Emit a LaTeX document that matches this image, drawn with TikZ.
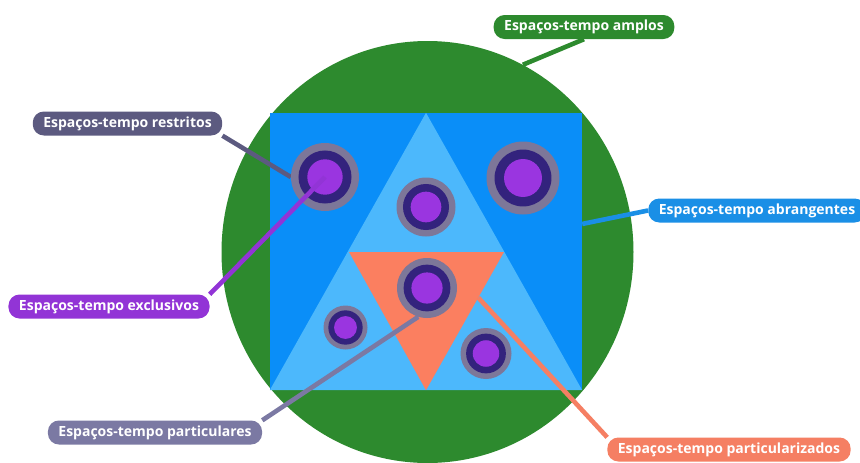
\documentclass[tikz,border=0pt]{standalone}
\usepackage{fontspec}
\setmainfont{Open Sans}
\usepackage{tikz}
\usetikzlibrary{shapes.geometric,%
	calc,%
	positioning}
\pgfdeclarelayer{areas}
\pgfdeclarelayer{links}
\pgfdeclarelayer{tags}
\pgfsetlayers{areas,links,main,tags}

\definecolor{amploC}{RGB}{45,138,46}
\definecolor{abrangC}{RGB}{10,142,248}
\definecolor{abrangT}{RGB}{26,143,230}
\definecolor{lightsky}{RGB}{76,184,252}
\definecolor{salmonC}{RGB}{251,127,96}
\definecolor{salmonT}{RGB}{245,127,99}
\definecolor{haloC}{RGB}{125,119,153}
\definecolor{darkC}{RGB}{51,35,125}
\definecolor{coreC}{RGB}{154,53,224}
\definecolor{restC}{RGB}{92,90,128}
\definecolor{exclC}{RGB}{146,52,214}
\definecolor{partC}{RGB}{123,121,163}

\begin{document}
\begin{tikzpicture}[x=1pt, y=-1pt, tag/.style = {fill=#1, text=white, rounded corners=11pt, font=\bfseries\fontsize{14}{16}\selectfont, inner xsep=10.5pt, minimum height=24pt},link/.style = {draw=#1, line width=4.6pt}, halo/.style = {circle, fill=haloC, inner sep=0pt}, ring/.style = {circle, fill=darkC, inner sep=0pt}, core/.style = {circle, fill=coreC, inner sep=0pt}]
	\useasboundingbox (0,0) rectangle (860,463);
	\begin{pgfonlayer}{tags}
	\node[tag=amploC] (lblAmp) at (584,27) {Espaços-tempo amplos};
	\node[tag=restC] (lblRes) at (127.5,123.5) {Espaços-tempo restritos};
	\node[tag=abrangT] (lblAbr) at (757,210.5) {Espaços-tempo abrangentes};
	\node[tag=exclC] (lblExc) at (109,306.5) {Espaços-tempo exclusivos};
	\node[tag=partC] (lblPar) at (155,432.5) {Espaços-tempo particulares};
	\node[tag=salmonT] (lblPzd) at (729,449.5) {Espaços-tempo particularizados};
	\end{pgfonlayer}
	% the nested areas
	\begin{pgfonlayer}{areas}
	\node[ellipse, fill=amploC, minimum width=412, minimum height=422, inner sep=0pt] (amplo) at (427.5,252) {};
	\node[fill=abrangC, minimum width=312, minimum height=277, inner sep=0pt] (abrang) at (426,251.5) {};
	\fill[lightsky] (abrang.south west) -- (abrang.north) -- (abrang.south east) -- cycle;
	\coordinate (o1) at (349,252);
	\coordinate (o2) at (504,252);
	\fill[salmonC] (o1) -- (o2) -- (abrang.south) -- cycle;
	\end{pgfonlayer}
	% the spots
	\foreach \n/\x/\y/\r in {res/325/177/34, tm/426/207/29.5, tr/523/178/36.5, mid/427/288/30, sl/345.5/327.5/22, sr/486/353.5/25.5}{
		\node[halo, minimum size=2*\r] (\n) at (\x,\y) {};
		\node[ring, minimum size=1.56*\r] at (\n) {};
		\node[core, minimum size=1.04*\r] at (\n) {};
	}
	\begin{pgfonlayer}{links}
	\draw[link=amploC] (lblAmp.south) -- (amplo.63);
	\draw[link=restC] (lblRes.south east) -- (res.west);
	\draw[link=abrangT] (lblAbr.west) -- (abrang.10);
	\draw[link=partC] (lblPar.north east) -- (mid.253);
	\draw[link=salmonT] (lblPzd.north west) -- ($(o2)!0.33!(abrang.south)$);
	\end{pgfonlayer}
	\draw[link=exclC] (lblExc.north east) -- (res.center);
\end{tikzpicture}
\end{document}
